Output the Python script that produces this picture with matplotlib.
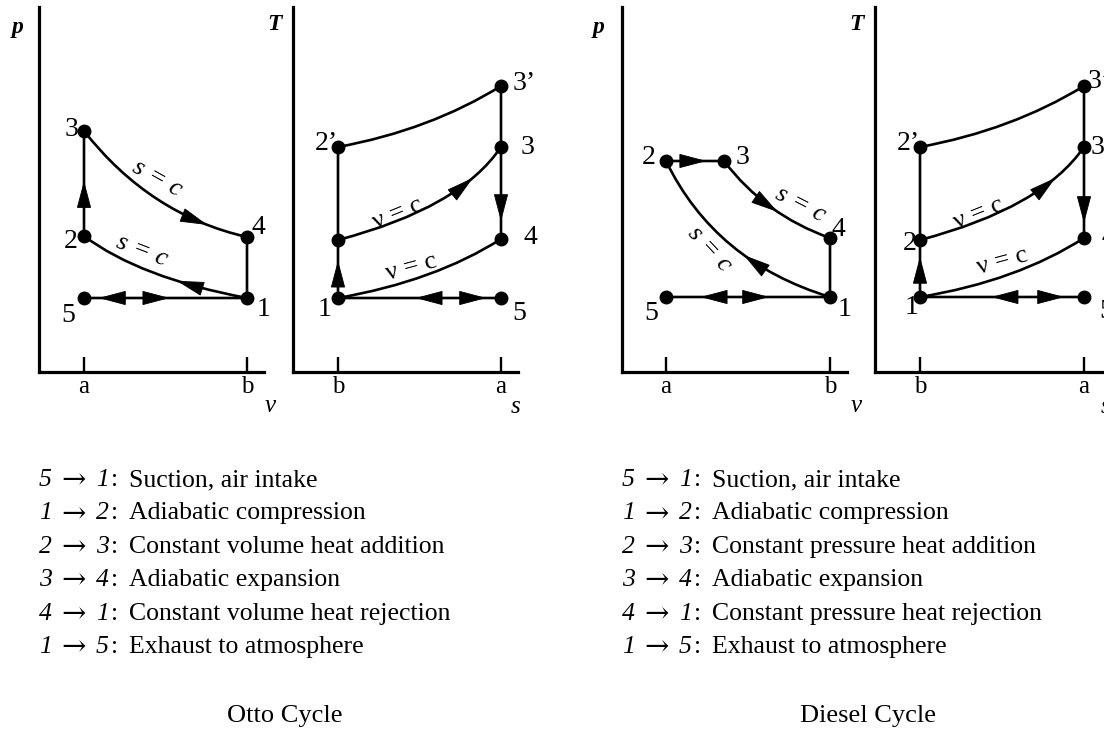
import numpy as np
import matplotlib
matplotlib.use("Agg")
import matplotlib.pyplot as plt
from matplotlib.path import Path
from matplotlib.patches import PathPatch, Polygon

W, H = 1104, 729
SERIF = ["Liberation Serif", "DejaVu Serif"]
plt.rcParams["font.family"] = SERIF

# ---------------------------------------------------------------- data
# Otto cycle, p-v diagram: state -> (v, p)
otto_pv_names = ["1", "2", "3", "4", "5"]
otto_pv_v = [20.8, 4.5, 4.5, 20.8, 4.5]
otto_pv_p = [7.4, 13.6, 24.1, 13.5, 7.4]

# Otto cycle, T-s diagram: state -> (s, T)
otto_ts_names = ["1", "2", "2’", "3", "3’", "4", "5"]
otto_ts_s = [4.5, 4.5, 4.5, 20.8, 20.8, 20.8, 20.8]
otto_ts_T = [7.4, 13.2, 22.5, 22.5, 28.6, 13.3, 7.4]

# Diesel cycle, p-v diagram
diesel_pv_names = ["1", "2", "3", "4", "5"]
diesel_pv_v = [20.8, 4.4, 10.2, 20.8, 4.4]
diesel_pv_p = [7.5, 21.1, 21.1, 13.4, 7.5]

# Diesel cycle, T-s diagram
diesel_ts_names = ["1", "2", "2’", "3", "3’", "4", "5"]
diesel_ts_s = [4.5, 4.5, 4.5, 20.9, 20.9, 20.9, 20.9]
diesel_ts_T = [7.5, 13.2, 22.5, 22.5, 28.6, 13.4, 7.5]

# processes: (from, to, bend control point or None, [(arrow tip t, +1/-1)])
otto_pv_paths = [("5", "1", None, [(0.515, 1), (0.10, -1)]),
                 ("1", "2", (10.1, 9.4), [(0.35, 1)]),
                 ("2", "3", None, [(0.51, 1)]),
                 ("3", "4", (11.1, 15.7), [(0.78, 1)]),
                 ("4", "1", None, [])]
otto_ts_paths = [("5", "1", None, [(0.515, 1), (0.10, -1)]),
                 ("1", "2", None, [(0.62, 1)]),
                 ("2", "3", (16.7, 16.4), [(0.72, 1)]),
                 ("3", "4", None, [(0.79, 1)]),
                 ("4", "1", (14.2, 9.1), []),
                 ("2", "2’", None, []),
                 ("3", "3’", None, []),
                 ("2’", "3’", (13.7, 24.2), [])]
diesel_pv_paths = [("5", "1", None, [(0.62, 1), (0.22, -1)]),
                   ("1", "2", (9.3, 11.0), [(0.42, 1)]),
                   ("2", "3", None, [(0.67, 1)]),
                   ("3", "4", (14.3, 15.7), [(0.55, 1)]),
                   ("4", "1", None, [])]
diesel_ts_paths = [("5", "1", None, [(0.555, 1), (0.13, -1)]),
                   ("1", "2", None, [(0.68, 1)]),
                   ("2", "3", (16.7, 16.4), [(0.72, 1)]),
                   ("3", "4", None, [(0.82, 1)]),
                   ("4", "1", (14.2, 9.1), []),
                   ("2", "2’", None, []),
                   ("3", "3’", None, []),
                   ("2’", "3’", (13.7, 24.2), [])]

tick_labels_pv = ["a", "b"]
tick_labels_ts = ["b", "a"]

otto_steps = [("5", "1", "Suction, air intake"),
              ("1", "2", "Adiabatic compression"),
              ("2", "3", "Constant volume heat addition"),
              ("3", "4", "Adiabatic expansion"),
              ("4", "1", "Constant volume heat rejection"),
              ("1", "5", "Exhaust to atmosphere")]
diesel_steps = [("5", "1", "Suction, air intake"),
                ("1", "2", "Adiabatic compression"),
                ("2", "3", "Constant pressure heat addition"),
                ("3", "4", "Adiabatic expansion"),
                ("4", "1", "Constant pressure heat rejection"),
                ("1", "5", "Exhaust to atmosphere")]
titles = ["Otto Cycle", "Diesel Cycle"]

# ---------------------------------------------------------------- layout
PX = 10.0          # pixels per data unit in every panel
BOTTOM_PX, TOP_PX = 372, 7
YMAX = (BOTTOM_PX - TOP_PX) / PX

# label positions (data units of each panel)
otto_pv_lab = {"1": (22.5, 6.3), "2": (3.2, 13.1), "3": (3.3, 24.3),
               "4": (21.9, 14.5), "5": (2.9, 5.6)}
otto_ts_lab = {"1": (3.2, 6.3), "2’": (3.3, 22.9), "3": (23.4, 22.5),
               "3’": (23.1, 28.8), "4": (23.7, 13.4), "5": (22.6, 5.9)}
diesel_pv_lab = {"1": (22.3, 6.2), "2": (2.7, 21.4), "3": (12.1, 21.4),
                 "4": (21.6, 14.2), "5": (2.9, 5.8)}
diesel_ts_lab = {"1": (3.7, 6.5), "2": (3.5, 12.9), "2’": (3.3, 22.9),
                 "3": (22.3, 22.5), "3’": (22.4, 29.0), "4": (23.3, 13.4),
                 "5": (23.1, 6.0)}

LW = 1.9
NOTE = dict(fontsize=19, ha="center", va="center", rotation_mode="anchor")
fig = plt.figure(figsize=(W / 100, H / 100), dpi=100)
fig.patch.set_facecolor("white")


def make_panel(left_px, width_units, ticks, tick_labels):
    ax = fig.add_axes([left_px / W, 1 - BOTTOM_PX / H,
                       width_units * PX / W, YMAX * PX / H])
    ax.set_xlim(0, width_units)
    ax.set_ylim(0, YMAX)
    ax.patch.set_alpha(0)
    for side in ("top", "right"):
        ax.spines[side].set_visible(False)
    for side in ("left", "bottom"):
        ax.spines[side].set_linewidth(2.3)
    ax.set_yticks([])
    ax.set_xticks(ticks, tick_labels)
    ax.tick_params(axis="x", direction="in", length=11, width=1.7,
                   labelsize=18, pad=3)
    return ax


def bezier(P0, C, P2, t):
    P0, C, P2 = map(np.asarray, (P0, C, P2))
    pt = (1 - t) ** 2 * P0 + 2 * t * (1 - t) * C + t ** 2 * P2
    d = 2 * (1 - t) * (C - P0) + 2 * t * (P2 - C)
    return pt, d / np.hypot(*d)


def arrowhead(ax, tip, d, length=2.5, half=0.66):
    n = np.array([-d[1], d[0]])
    base = tip - length * d
    ax.add_patch(Polygon([tip, base + half * n, base - half * n],
                         closed=True, fc="k", ec="k", lw=0.6, zorder=4))


def draw_cycle(ax, names, xs, ys, paths, labels):
    pts = {n: (x, y) for n, x, y in zip(names, xs, ys)}
    for a, b, ctrl, arrows in paths:
        P0, P2 = np.array(pts[a]), np.array(pts[b])
        C = (P0 + P2) / 2 if ctrl is None else np.array(ctrl)
        path = Path([P0, C, P2], [Path.MOVETO, Path.CURVE3, Path.CURVE3])
        ax.add_patch(PathPatch(path, fc="none", ec="k", lw=LW,
                               capstyle="round", zorder=3))
        for t, sgn in arrows:
            tip, d = bezier(P0, C, P2, t)
            arrowhead(ax, tip, d * sgn)
    ax.plot(xs, ys, "o", ms=9, color="k", zorder=5)
    for n, (lx, ly) in labels.items():
        ax.text(lx, ly, n, fontsize=20, ha="center", va="center",
                clip_on=False)


def axis_names(ax, ylab, ypos, xlab, xpos):
    ax.text(*ypos, ylab, fontsize=17, style="italic", weight="bold",
            ha="center", va="center", clip_on=False)
    ax.text(*xpos, xlab, fontsize=18, style="italic", ha="center",
            va="center", clip_on=False)


# ---------------------------------------------------------------- panels
ax1 = make_panel(39, 22.5, [otto_pv_v[1], otto_pv_v[0]], tick_labels_pv)
draw_cycle(ax1, otto_pv_names, otto_pv_v, otto_pv_p, otto_pv_paths, otto_pv_lab)
axis_names(ax1, "p", (-2.1, 34.4), "v", (23.1, -3.4))
ax1.text(11.8, 19.3, "s = c", style="italic", rotation=-29, **NOTE)
ax1.text(10.3, 12.1, "s = c", style="italic", rotation=-21, **NOTE)

ax2 = make_panel(293, 22.5, [otto_ts_s[0], otto_ts_s[6]], tick_labels_ts)
draw_cycle(ax2, otto_ts_names, otto_ts_s, otto_ts_T, otto_ts_paths, otto_ts_lab)
axis_names(ax2, "T", (-1.9, 34.8), "s", (22.3, -3.5))
ax2.text(10.5, 15.8, "ν = c", rotation=22, **NOTE)
ax2.text(11.8, 10.4, "ν = c", rotation=15, **NOTE)

ax3 = make_panel(622, 22.5, [diesel_pv_v[1], diesel_pv_v[0]], tick_labels_pv)
draw_cycle(ax3, diesel_pv_names, diesel_pv_v, diesel_pv_p, diesel_pv_paths,
           diesel_pv_lab)
axis_names(ax3, "p", (-2.3, 34.5), "v", (23.4, -3.4))
ax3.text(17.8, 16.7, "s = c", style="italic", rotation=-27, **NOTE)
ax3.text(8.7, 12.3, "s = c", style="italic", rotation=-47, **NOTE)

ax4 = make_panel(875, 23.0, [diesel_ts_s[0], diesel_ts_s[6]], tick_labels_ts)
draw_cycle(ax4, diesel_ts_names, diesel_ts_s, diesel_ts_T, diesel_ts_paths,
           diesel_ts_lab)
axis_names(ax4, "T", (-1.9, 34.7), "s", (23.1, -3.5))
ax4.text(10.4, 15.8, "ν = c", rotation=22, **NOTE)
ax4.text(12.7, 11.0, "ν = c", rotation=15, **NOTE)

# ---------------------------------------------------------------- text blocks
def fx(px):
    return px / W


def fy(py):
    return 1 - py / H


def step_block(x0, steps, title, title_x):
    base0, dy = 486, 33.4
    for i, (s0, s1, desc) in enumerate(steps):
        yb = fy(base0 + i * dy)
        kw = dict(fontsize=18.5, va="baseline", ha="left")
        fig.text(fx(x0), yb, s0, style="italic", **kw)
        fig.text(fx(x0 + 22), fy(base0 + i * dy - 5.5), "→", fontsize=21,
                 family="DejaVu Serif", ha="left", va="center")
        fig.text(fx(x0 + 57), yb, s1, style="italic", **kw)
        fig.text(fx(x0 + 72), yb, ":", **kw)
        fig.text(fx(x0 + 90), yb, desc, **kw)
    fig.text(fx(title_x), fy(722), title, fontsize=19, ha="center",
             va="baseline")


step_block(39, otto_steps, titles[0], 285)
step_block(622, diesel_steps, titles[1], 868)

fig.savefig("out.png", dpi=100, facecolor="white")
